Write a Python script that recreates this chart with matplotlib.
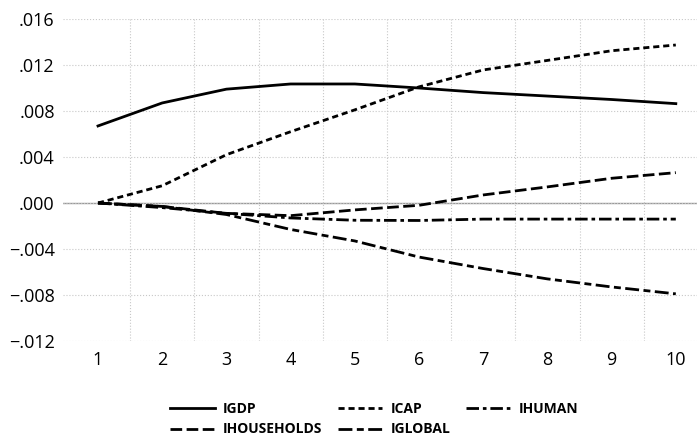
import numpy as np
import matplotlib.pyplot as plt

plt.rcParams['font.family'] = ['Open Sans', 'DejaVu Sans']

periods = np.arange(1, 11)
igdp = [0.0067, 0.0087, 0.0099, 0.01035, 0.01035, 0.0100, 0.0096, 0.0093, 0.0090, 0.00864]
icap = [0.0, 0.0015, 0.0042, 0.0062, 0.0081, 0.0101, 0.01157, 0.0124, 0.01324, 0.01374]
ihuman = [0.0, -0.0004, -0.0009, -0.0013, -0.0015, -0.00152, -0.0014, -0.0014, -0.0014, -0.0014]
ihouseholds = [0.0, -0.0003, -0.0009, -0.0011, -0.0006, -0.0002, 0.0007, 0.0014, 0.00215, 0.00264]
iglobal = [0.0, -0.0003, -0.0010, -0.0023, -0.0033, -0.0047, -0.0057, -0.0066, -0.0073, -0.0079]

y_ticks = [0.016, 0.012, 0.008, 0.004, 0.0, -0.004, -0.008, -0.012]
y_labels = ['.016', '.012', '.008', '.004', '.000', '\u2212.004', '\u2212.008', '\u2212.012']

fig = plt.figure(figsize=(6.97, 4.42), dpi=100)
ax = fig.add_axes([0.0904, 0.2285, 0.9096, 0.7285])

lw = 2.0
l_gdp, = ax.plot(periods, igdp, color='black', lw=lw, ls='-', label='IGDP')
l_cap, = ax.plot(periods, icap, color='black', lw=lw, ls=(0, (2.2, 1.4)), label='ICAP')
l_hum, = ax.plot(periods, ihuman, color='black', lw=lw, ls=(0, (4.5, 1.4, 1.3, 1.4)), label='IHUMAN')
l_hh, = ax.plot(periods, ihouseholds, color='black', lw=lw, ls=(0, (4.2, 1.6)), label='IHOUSEHOLDS')
l_glo, = ax.plot(periods, iglobal, color='black', lw=lw, ls=(0, (5, 1.6, 2.5, 1.6)), label='IGLOBAL')

ax.axhline(0, color='#999999', lw=1.0, zorder=0)

ax.set_xlim(0.455, 10.33)
ax.set_ylim(-0.012, 0.016)
ax.set_xticks(periods)
ax.set_xticks(np.arange(1.5, 10, 1), minor=True)
ax.set_yticks(y_ticks)
ax.set_yticklabels(y_labels)
ax.tick_params(axis='both', which='both', length=0, labelsize=13)
ax.tick_params(axis='x', pad=7)
ax.tick_params(axis='y', pad=6)
ax.grid(True, axis='x', which='minor', color='#c8c8c8', ls=':', lw=0.8)
ax.grid(True, axis='y', which='major', color='#c8c8c8', ls=':', lw=0.8)
ax.grid(False, axis='x', which='major')
for s in ax.spines.values():
    s.set_visible(False)

handles = [l_gdp, l_hh, l_cap, l_glo, l_hum]
fig.legend(handles, [h.get_label() for h in handles], ncol=3, frameon=False,
           loc='center', bbox_to_anchor=(0.537, 0.052),
           prop={'weight': 'bold', 'size': 10}, handlelength=3.2,
           columnspacing=1.1, labelspacing=0.5, handletextpad=0.6)

fig.savefig('out.png', dpi=100)
